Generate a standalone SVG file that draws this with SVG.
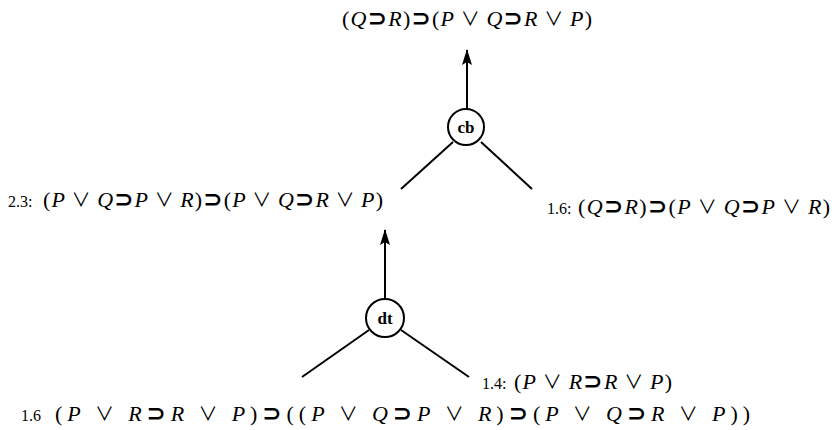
<svg xmlns="http://www.w3.org/2000/svg" width="836" height="430" viewBox="0 0 836 430">
<style>
  text { font-family: "Liberation Serif", "DejaVu Serif", serif; font-size: 22px; fill: #000; }
  .v { font-style: italic; }
  .n { font-size: 16px; }
  .s { font-family: "DejaVu Sans", "Liberation Sans", sans-serif; font-size: 23px; font-weight: bold; }
  .o { font-family: "Noto Sans CJK JP", "DejaVu Sans", sans-serif; font-size: 19px; }
  .edge { stroke: #000; stroke-width: 2; fill: none; }
  .node circle { fill: #fff; stroke: #000; stroke-width: 2; }
  .lbl { font-weight: bold; font-size: 17px; text-anchor: middle; }
</style>
<defs>
  <marker id="arr" viewBox="0 0 16 10" refX="15" refY="5" markerWidth="16" markerHeight="10" markerUnits="userSpaceOnUse" orient="auto">
    <path d="M0,0 L16,5 L0,10 L3,5 Z" fill="#000"/>
  </marker>
</defs>
<g id="connectors">
  <line class="edge" x1="467" y1="109" x2="467" y2="50" marker-end="url(#arr)"/>
  <line class="edge" x1="453" y1="142" x2="401" y2="189"/>
  <line class="edge" x1="481" y1="142" x2="532" y2="189"/>
  <line class="edge" x1="385" y1="299" x2="385" y2="230" marker-end="url(#arr)"/>
  <line class="edge" x1="369" y1="330" x2="302" y2="377"/>
  <line class="edge" x1="401" y1="330" x2="469" y2="377"/>
</g>
<g id="node-top">
  <text x="342" y="26" textLength="250"><tspan>(</tspan><tspan class="v">Q</tspan><tspan class="s">⊃</tspan><tspan class="v">R</tspan><tspan>)</tspan><tspan class="s">⊃</tspan><tspan>(</tspan><tspan class="v">P</tspan><tspan class="o"> ∨ </tspan><tspan class="v">Q</tspan><tspan class="s">⊃</tspan><tspan class="v">R</tspan><tspan class="o"> ∨ </tspan><tspan class="v">P</tspan><tspan>)</tspan></text>
</g>
<g id="node-cb" class="node">
  <circle cx="466" cy="127" r="18"/>
  <text class="lbl" x="466" y="133">cb</text>
</g>
<g id="node-23">
  <text class="n" x="8" y="207">2.3:</text>
  <text x="43" y="207" textLength="340"><tspan>(</tspan><tspan class="v">P</tspan><tspan class="o"> ∨ </tspan><tspan class="v">Q</tspan><tspan class="s">⊃</tspan><tspan class="v">P</tspan><tspan class="o"> ∨ </tspan><tspan class="v">R</tspan><tspan>)</tspan><tspan class="s">⊃</tspan><tspan>(</tspan><tspan class="v">P</tspan><tspan class="o"> ∨ </tspan><tspan class="v">Q</tspan><tspan class="s">⊃</tspan><tspan class="v">R</tspan><tspan class="o"> ∨ </tspan><tspan class="v">P</tspan><tspan>)</tspan></text>
</g>
<g id="node-16a">
  <text class="n" x="547" y="214">1.6:</text>
  <text x="578" y="214" textLength="252"><tspan>(</tspan><tspan class="v">Q</tspan><tspan class="s">⊃</tspan><tspan class="v">R</tspan><tspan>)</tspan><tspan class="s">⊃</tspan><tspan>(</tspan><tspan class="v">P</tspan><tspan class="o"> ∨ </tspan><tspan class="v">Q</tspan><tspan class="s">⊃</tspan><tspan class="v">P</tspan><tspan class="o"> ∨ </tspan><tspan class="v">R</tspan><tspan>)</tspan></text>
</g>
<g id="node-dt" class="node">
  <circle cx="385" cy="318" r="19"/>
  <text class="lbl" x="385" y="324">dt</text>
</g>
<g id="node-14">
  <text class="n" x="482" y="389">1.4:</text>
  <text x="514" y="389" textLength="158"><tspan>(</tspan><tspan class="v">P</tspan><tspan class="o"> ∨ </tspan><tspan class="v">R</tspan><tspan class="s">⊃</tspan><tspan class="v">R</tspan><tspan class="o"> ∨ </tspan><tspan class="v">P</tspan><tspan>)</tspan></text>
</g>
<g id="node-16b">
  <text class="n" x="21" y="421">1.6</text>
  <text x="55" y="421" textLength="695"><tspan>(</tspan><tspan class="v">P</tspan><tspan class="o"> ∨ </tspan><tspan class="v">R</tspan><tspan class="s">⊃</tspan><tspan class="v">R</tspan><tspan class="o"> ∨ </tspan><tspan class="v">P</tspan><tspan>)</tspan><tspan class="s">⊃</tspan><tspan>((</tspan><tspan class="v">P</tspan><tspan class="o"> ∨ </tspan><tspan class="v">Q</tspan><tspan class="s">⊃</tspan><tspan class="v">P</tspan><tspan class="o"> ∨ </tspan><tspan class="v">R</tspan><tspan>)</tspan><tspan class="s">⊃</tspan><tspan>(</tspan><tspan class="v">P</tspan><tspan class="o"> ∨ </tspan><tspan class="v">Q</tspan><tspan class="s">⊃</tspan><tspan class="v">R</tspan><tspan class="o"> ∨ </tspan><tspan class="v">P</tspan><tspan>))</tspan></text>
</g>
</svg>
